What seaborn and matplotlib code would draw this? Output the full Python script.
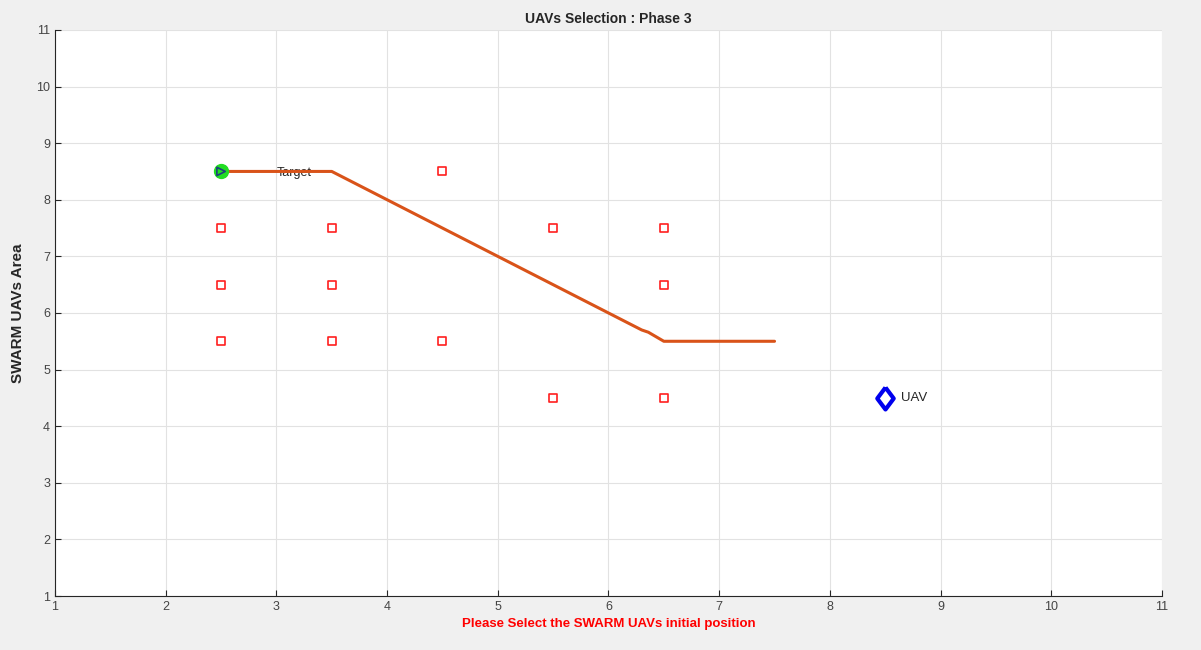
import numpy as np
import pandas as pd
import matplotlib
matplotlib.use("Agg")
import matplotlib.pyplot as plt
import seaborn as sns

# UAV swarm positions (red squares)
swarm_x = [2.5, 2.5, 2.5, 3.5, 3.5, 3.5, 4.5, 4.5, 5.5, 5.5, 6.5, 6.5, 6.5]
swarm_y = [7.5, 6.5, 5.5, 7.5, 6.5, 5.5, 8.5, 5.5, 7.5, 4.5, 7.5, 6.5, 4.5]

# selected path
path_x = [2.5, 3.5, 6.3, 6.36, 6.5, 7.5]
path_y = [8.5, 8.5, 5.7, 5.66, 5.5, 5.5]

target = (2.5, 8.5)
uav = (8.5, 4.5)

sns.set_style("whitegrid")
plt.rcParams['font.family'] = ['Liberation Sans', 'DejaVu Sans']

fig = plt.figure(figsize=(12.01, 6.5), dpi=100, facecolor='#f0f0f0')
ax = fig.add_axes([0.0458, 0.083, 0.9217, 0.871])
ax.set_facecolor('white')

sq = pd.DataFrame({'x': swarm_x, 'y': swarm_y})
sns.scatterplot(data=sq, x='x', y='y', marker='s', s=34, facecolors='none',
                edgecolor='#ff1f1f', linewidth=1.2, ax=ax, zorder=3)

sns.lineplot(x=path_x, y=path_y, sort=False, color='#d95319', linewidth=2.2,
             ax=ax, zorder=2)

ax.scatter([target[0]], [target[1]], s=100, color='#22dd22', zorder=4)
ax.scatter([target[0]], [target[1]], s=36, marker='>', facecolors='none',
           edgecolors='#1f3f7f', linewidth=1.2, zorder=5)
ax.text(3.0, 8.47, 'Target', fontsize=9, va='center', ha='left', zorder=1)

diamond = [(0, 1), (0.75, 0), (0, -1), (-0.75, 0), (0, 1)]
ax.scatter([uav[0]], [uav[1]], s=250, marker=diamond, facecolors='white',
           edgecolors='#0000ee', linewidth=3, zorder=4)
ax.text(uav[0] + 0.14, uav[1], 'UAV', fontsize=9.5, va='center', ha='left')

ax.set_xlim(1, 11)
ax.set_ylim(1, 11)
ax.set_xticks(range(1, 12))
ax.set_yticks(range(1, 12))
ax.grid(True, color='#e2e2e2', linewidth=0.8)
for sp in ax.spines.values():
    sp.set_color('#262626')
    sp.set_linewidth(0.8)
ax.spines['top'].set_visible(False)
ax.spines['right'].set_visible(False)
ax.tick_params(axis='both', labelsize=9, colors='#262626', labelcolor='#444444',
               length=4, direction='in', left=True, bottom=True)

ax.set_title('UAVs Selection : Phase 3', fontsize=10, fontweight='bold', pad=5)
ax.set_xlabel('Please Select the SWARM UAVs initial position', color='#ff0000',
              fontsize=9.5, fontweight='bold', labelpad=4)
ax.set_ylabel('SWARM UAVs Area', fontsize=11, fontweight='bold', labelpad=8)

fig.savefig('out.png', dpi=100, facecolor=fig.get_facecolor())
